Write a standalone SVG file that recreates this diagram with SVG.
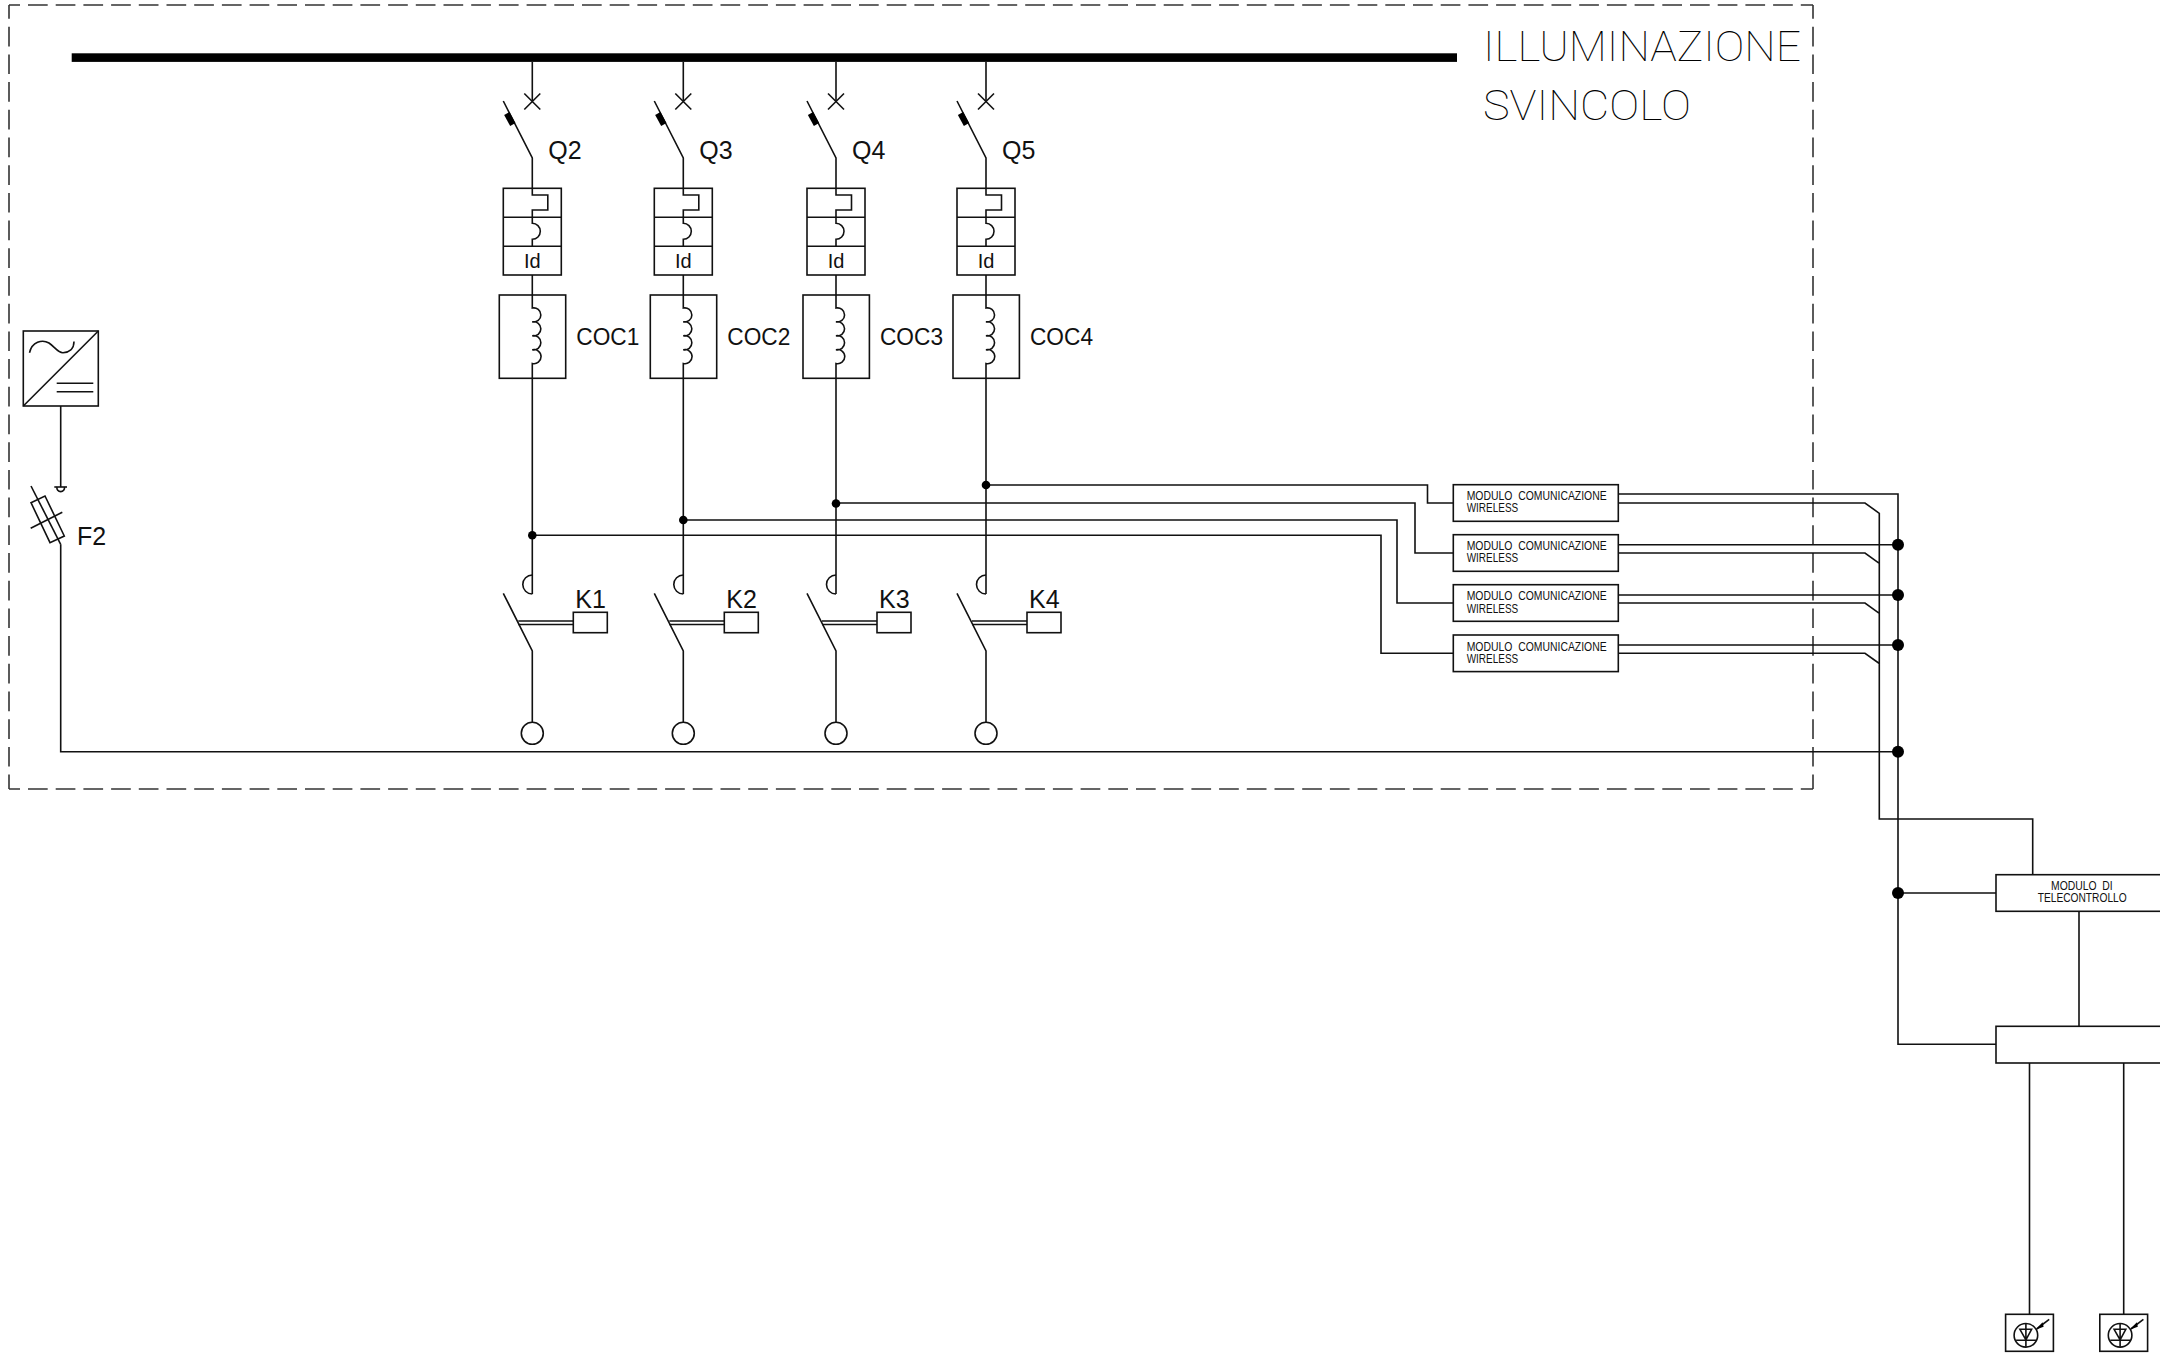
<svg xmlns="http://www.w3.org/2000/svg" width="2160" height="1359" viewBox="0 0 2160 1359">
<style>
text{font-family:"Liberation Sans",Arial,sans-serif;fill:#111}
.s,.s *{fill:none;stroke:#111;stroke-width:1.6}
.w{fill:none;stroke:#111;stroke-width:1.6}
.b{fill:#fff;stroke:#111;stroke-width:1.6}
.d{fill:#000;stroke:none}
.l{font-size:25px}
.c{font-size:23px}
.i{font-size:20px}
.m{font-size:13px;white-space:pre}
.t{font-family:Roboto,"Liberation Sans",sans-serif;font-weight:100;font-size:42px;fill:#000}
.f{fill:none;stroke:#333;stroke-width:1.6;stroke-dasharray:19.700 8}
</style>
<defs>
<g id="breaker" class="s">
<path d="M-8 93.500L8 109.500M-8 109.500L8 93.500"/>
<path d="M-29 101L0 158V188"/>
<path d="M-25.500 113.500L-19.500 124.500" style="stroke:#000;stroke-width:6"/>
<rect x="-29" y="188.300" width="58" height="86.700"/>
<path d="M-29 217.300H29M-29 246.300H29"/>
<path d="M0 188.300V195H15.500V210H0V217.300"/>
<path d="M0 217.300V223.300A8 8 0 0 1 0 239.300V246.300"/>
</g>
<g id="coc" class="s">
<rect x="-33" y="295" width="66.400" height="83.300"/>
<path d="M0 295V308A7.100 7.100 0 1 1 0 321.900A7.100 7.100 0 1 1 0 335.800A7.100 7.100 0 1 1 0 349.700A7.100 7.100 0 1 1 0 363.500V378.300"/>
</g>
<g id="contactor" class="s">
<path d="M0 575A9.500 9.500 0 0 0 0 594"/>
<path d="M-29 593.300L0 651V722.700"/>
<path d="M-14 621H41M-14 624.500H41"/>
<rect x="41" y="612.300" width="34" height="20.400"/>
<circle cx="0" cy="733.300" r="11"/>
</g>
<g id="lamp">
<g class="s">
<rect x="0" y="0" width="47.800" height="37"/>
<circle cx="20.300" cy="21" r="11.800"/>
<path d="M14.300 15H26L20.300 25.500ZM10.500 26H30.500M20.300 9.500V32.500"/>
<path d="M31 14.700L43.600 5"/>
</g>
<path class="d" d="M30 15.500L37 8L38 12.500Z"/>
</g>
</defs>

<g id="frame">
<path class="f" d="M9 5H1813M9 789H1813" stroke-dashoffset="8.700"/>
<path class="f" d="M9 5V789M1813 5V789" stroke-dashoffset="6"/>
</g>
<g id="title">
<text class="t" x="1483" y="60.500" textLength="318" lengthAdjust="spacingAndGlyphs">ILLUMINAZIONE</text>
<text class="t" x="1483" y="119.500" textLength="208" lengthAdjust="spacingAndGlyphs">SVINCOLO</text>
</g>
<g id="bus"><rect x="71.700" y="53.300" width="1385.300" height="8.600" fill="#000"/></g>

<g id="connectors">
<path class="w" d="M532.300 62V101M683.300 62V101M836 62V101M986 62V101"/>
<path class="w" d="M532.300 275V295M683.300 275V295M836 275V295M986 275V295"/>
<path class="w" d="M532.300 378.300V594M683.300 378.300V594M836 378.300V594M986 378.300V594"/>
<path class="w" d="M986 485H1427.500V503H1453.500M836 503H1415V553H1453.500M683.300 520H1397V603H1453.500M532.300 535.300H1381V653.300H1453.500"/>
<path class="w" d="M1618.300 494H1898V1044.300H1996M1618.300 544.700H1898M1618.300 595H1898M1618.300 645H1898"/>
<path class="w" d="M1618.300 503H1865L1879.300 513.300V819H2032.700V874.700M1618.300 553H1865L1879.300 563.300M1618.300 603H1865L1879.300 613.300M1618.300 653.300H1865L1879.300 663.500"/>
<path class="w" d="M60.700 406V487M60.700 544.300V751.700H1898M1898 893H1996M2079 911V1026.300M2029.500 1063V1314.300M2123.700 1063V1314.300"/>
<g class="d">
<circle cx="532.300" cy="535.300" r="4.300"/><circle cx="683.300" cy="520" r="4.300"/><circle cx="836" cy="503.500" r="4.300"/><circle cx="986" cy="485" r="4.300"/>
<circle cx="1898" cy="544.700" r="6"/><circle cx="1898" cy="595" r="6"/><circle cx="1898" cy="645" r="6"/><circle cx="1898" cy="751.700" r="6"/><circle cx="1898" cy="893" r="6"/>
</g>
</g>

<g id="inverter" class="s">
<rect x="23.300" y="331" width="75" height="75"/>
<path d="M23.300 406L98.300 331"/>
<path d="M29.500 352.700C32 342 42 339 49 343C55 347 58 353 63 352.700C69 352.500 74 349 74 341.500"/>
<path d="M56.700 383.300H93.300M56.700 391.700H93.300"/>
</g>
<g id="F2">
<g class="s">
<path d="M54.300 487H67"/>
<path d="M57 487A3.800 3.800 0 1 0 64.400 487"/>
<path d="M31 486L60.700 544.300"/>
<path d="M31 502.700L45 496L64.300 536L50 542.700Z"/>
<path d="M30.700 528.300L62.300 512.300"/>
</g>
<text class="l" x="77" y="545">F2</text>
</g>

<g id="Q2" transform="translate(532.300 0)"><use href="#breaker"/><text class="i" x="0" y="268" text-anchor="middle">Id</text><text class="l" x="16" y="159">Q2</text></g>
<g id="Q3" transform="translate(683.300 0)"><use href="#breaker"/><text class="i" x="0" y="268" text-anchor="middle">Id</text><text class="l" x="16" y="159">Q3</text></g>
<g id="Q4" transform="translate(836 0)"><use href="#breaker"/><text class="i" x="0" y="268" text-anchor="middle">Id</text><text class="l" x="16" y="159">Q4</text></g>
<g id="Q5" transform="translate(986 0)"><use href="#breaker"/><text class="i" x="0" y="268" text-anchor="middle">Id</text><text class="l" x="16" y="159">Q5</text></g>

<g id="COC1" transform="translate(532.300 0)"><use href="#coc"/><text class="c" x="44" y="344.500" textLength="63" lengthAdjust="spacingAndGlyphs">COC1</text></g>
<g id="COC2" transform="translate(683.300 0)"><use href="#coc"/><text class="c" x="44" y="344.500" textLength="63" lengthAdjust="spacingAndGlyphs">COC2</text></g>
<g id="COC3" transform="translate(836 0)"><use href="#coc"/><text class="c" x="44" y="344.500" textLength="63" lengthAdjust="spacingAndGlyphs">COC3</text></g>
<g id="COC4" transform="translate(986 0)"><use href="#coc"/><text class="c" x="44" y="344.500" textLength="63" lengthAdjust="spacingAndGlyphs">COC4</text></g>

<g id="K1" transform="translate(532.300 0)"><use href="#contactor"/><text class="l" x="43" y="607.500">K1</text></g>
<g id="K2" transform="translate(683.300 0)"><use href="#contactor"/><text class="l" x="43" y="607.500">K2</text></g>
<g id="K3" transform="translate(836 0)"><use href="#contactor"/><text class="l" x="43" y="607.500">K3</text></g>
<g id="K4" transform="translate(986 0)"><use href="#contactor"/><text class="l" x="43" y="607.500">K4</text></g>

<g id="wireless1"><rect class="b" x="1453.300" y="484.700" width="165" height="36.600"/><text class="m" x="1466.700" y="500" textLength="140" lengthAdjust="spacingAndGlyphs">MODULO  COMUNICAZIONE</text><text class="m" x="1466.700" y="512.300" textLength="51.500" lengthAdjust="spacingAndGlyphs">WIRELESS</text></g>
<g id="wireless2"><rect class="b" x="1453.300" y="534.700" width="165" height="36.600"/><text class="m" x="1466.700" y="550" textLength="140" lengthAdjust="spacingAndGlyphs">MODULO  COMUNICAZIONE</text><text class="m" x="1466.700" y="562.300" textLength="51.500" lengthAdjust="spacingAndGlyphs">WIRELESS</text></g>
<g id="wireless3"><rect class="b" x="1453.300" y="584.700" width="165" height="36.600"/><text class="m" x="1466.700" y="600.300" textLength="140" lengthAdjust="spacingAndGlyphs">MODULO  COMUNICAZIONE</text><text class="m" x="1466.700" y="612.500" textLength="51.500" lengthAdjust="spacingAndGlyphs">WIRELESS</text></g>
<g id="wireless4"><rect class="b" x="1453.300" y="635" width="165" height="36.600"/><text class="m" x="1466.700" y="650.500" textLength="140" lengthAdjust="spacingAndGlyphs">MODULO  COMUNICAZIONE</text><text class="m" x="1466.700" y="662.800" textLength="51.500" lengthAdjust="spacingAndGlyphs">WIRELESS</text></g>

<g id="telecontrollo"><rect class="b" x="1996" y="874.700" width="175" height="36.600"/><text class="m" x="2051" y="890" textLength="61.700" lengthAdjust="spacingAndGlyphs">MODULO  DI</text><text class="m" x="2037.700" y="902.300" textLength="89" lengthAdjust="spacingAndGlyphs">TELECONTROLLO</text></g>
<g id="panel"><rect class="b" x="1996" y="1026.300" width="175" height="36.700"/></g>
<g id="lamp1" transform="translate(2005.600 1314.300)"><use href="#lamp"/></g>
<g id="lamp2" transform="translate(2099.800 1314.300)"><use href="#lamp"/></g>
</svg>
